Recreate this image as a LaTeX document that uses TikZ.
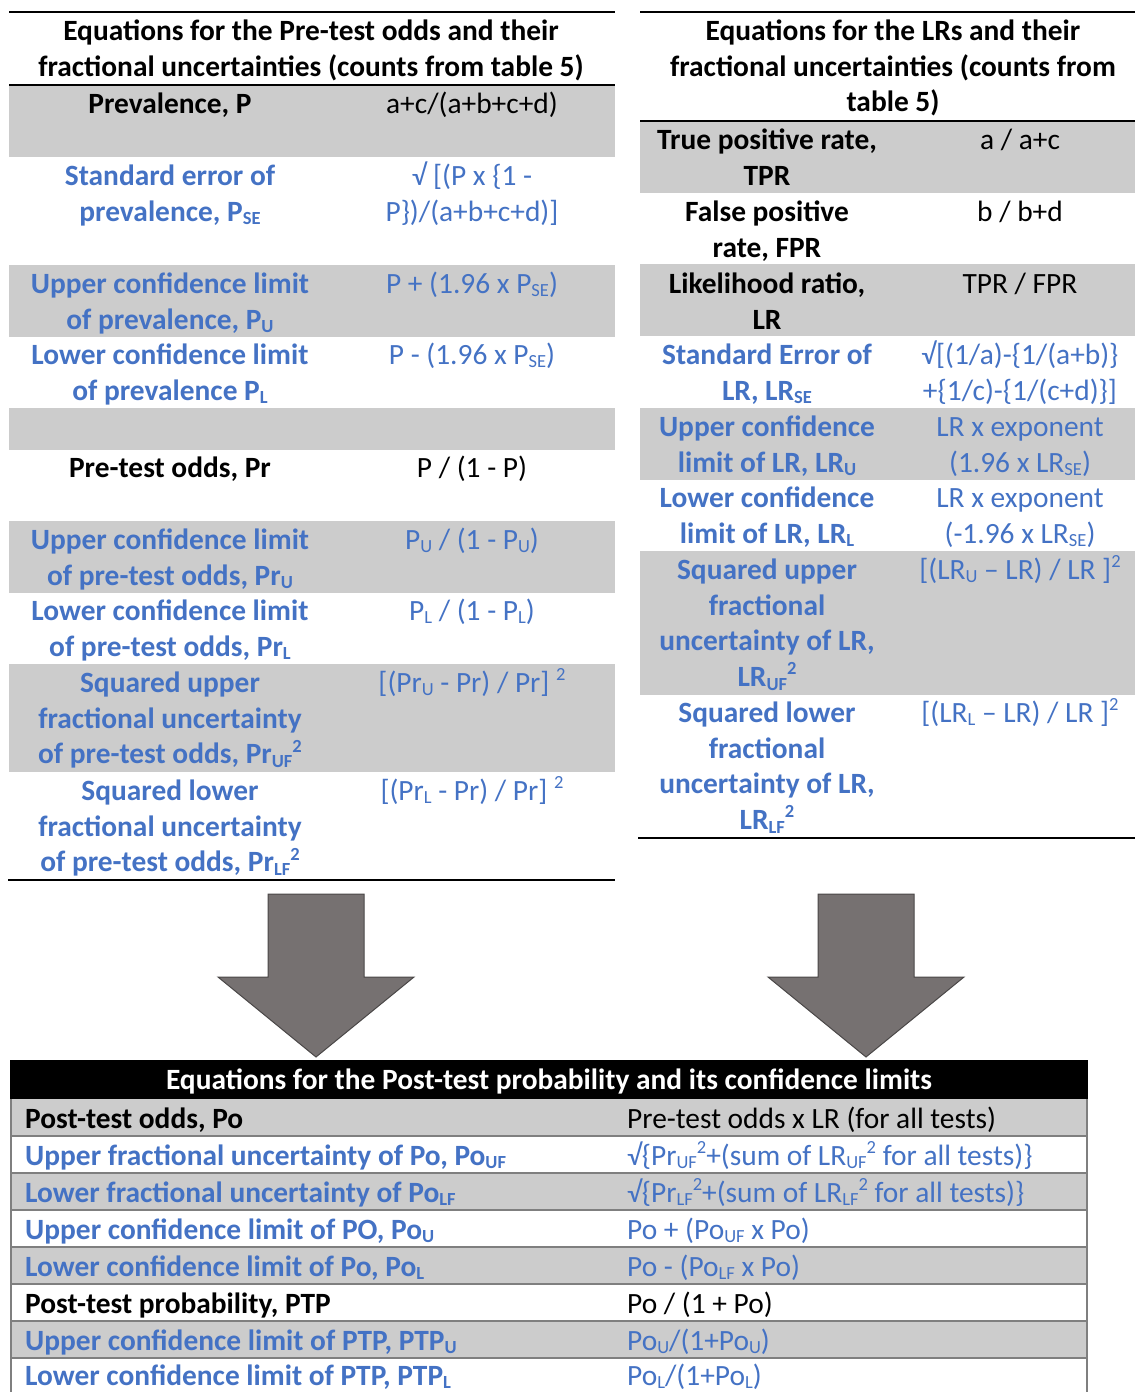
\documentclass[tikz,border=0pt]{standalone}
\usepackage{fontspec}
\setmainfont{Carlito}
\definecolor{eqblue}{HTML}{4472C4}
\definecolor{rowgray}{HTML}{CCCCCC}
\definecolor{arrowgray}{HTML}{767171}
\definecolor{arrowedge}{HTML}{4A4747}
\definecolor{gridgray}{HTML}{7F7F7F}

% lowered and raised small text, as used for indices and squares
\newcommand\sbs[1]{\raisebox{-0.12em}{\fontsize{18.5}{18.5}\selectfont #1}}
\newcommand\sps[1]{\raisebox{0.40em}{\fontsize{18.5}{18.5}\selectfont #1}}
% a centred cell whose first baseline sits at the given y
\newcommand\cellat[5]{\node[#1] (#2) at (#3,#4-26) {\rule{0pt}{26pt}#5};}

\tikzset{
  hd/.style={anchor=north, inner sep=0pt, align=center, font=\bfseries\fontsize{29.4}{35.8}\selectfont},
  lab/.style={anchor=north, inner sep=0pt, align=center, font=\bfseries\fontsize{29.4}{35.8}\selectfont},
  frm/.style={anchor=north, inner sep=0pt, align=center, font=\fontsize{29.4}{35.8}\selectfont},
  eq/.style={text=eqblue},
  rule/.style={line width=2pt, black},
  band/.style={fill=rowgray, draw=none},
  bigarrow/.style={fill=arrowgray, draw=arrowedge, line width=1pt, line join=miter},
  blab/.style={anchor=base west, inner sep=0pt, font=\bfseries\fontsize{29.4}{32}\selectfont},
  bfrm/.style={anchor=base west, inner sep=0pt, font=\fontsize{29.4}{32}\selectfont},
  grid/.style={draw=gridgray, line width=2.5pt}
}

\begin{document}
\begin{tikzpicture}[x=1pt,y=-1pt]
\useasboundingbox (0,0) rectangle (1135,1392);

%% ---------------- left table: pre-test odds ----------------
\fill[band] (9,85) rectangle (615,157);
\fill[band] (9,265) rectangle (615,337);
\fill[band] (9,408) rectangle (615,450);
\fill[band] (9,521) rectangle (615,593);
\fill[band] (9,664) rectangle (615,772);
\draw[rule] (9,12) -- (615,12);
\draw[rule] (9,85) -- (615,85);
\draw[rule] (8,880) -- (615,880);

\cellat{hd}{lt}{311}{40}{Equations for the Pre-test odds and their\\fractional uncertainties (counts from table 5)}

\cellat{lab}{l1}{170}{113}{Prevalence, P}
\cellat{frm}{r1}{472}{113}{a+c/(a+b+c+d)}
\cellat{lab,eq}{l2}{170}{185}{Standard error of\\prevalence, P\sbs{SE}}
\cellat{frm,eq}{r2}{472}{185}{√ [(P x \{1 -\\P\})/(a+b+c+d)]}
\cellat{lab,eq}{l3}{170}{293}{Upper confidence limit\\of prevalence, P\sbs{U}}
\cellat{frm,eq}{r3}{472}{293}{P + (1.96 x P\sbs{SE})}
\cellat{lab,eq}{l4}{170}{364}{Lower confidence limit\\of prevalence P\sbs{L}}
\cellat{frm,eq}{r4}{472}{364}{P - (1.96 x P\sbs{SE})}
\cellat{lab}{l6}{170}{477}{Pre-test odds, Pr}
\cellat{frm}{r6}{472}{477}{P / (1 - P)}
\cellat{lab,eq}{l7}{170}{549}{Upper confidence limit\\of pre-test odds, Pr\sbs{U}}
\cellat{frm,eq}{r7}{472}{549}{P\sbs{U} / (1 - P\sbs{U})}
\cellat{lab,eq}{l8}{170}{620}{Lower confidence limit\\of pre-test odds, Pr\sbs{L}}
\cellat{frm,eq}{r8}{472}{620}{P\sbs{L} / (1 - P\sbs{L})}
\cellat{lab,eq}{l9}{170}{692}{Squared upper\\fractional uncertainty\\of pre-test odds, Pr\sbs{UF}\sps{2}}
\cellat{frm,eq}{r9}{472}{692}{[(Pr\sbs{U} - Pr) / Pr] \sps{2}}
\cellat{lab,eq}{l10}{170}{800}{Squared lower\\fractional uncertainty\\of pre-test odds, Pr\sbs{LF}\sps{2}}
\cellat{frm,eq}{r10}{472}{800}{[(Pr\sbs{L} - Pr) / Pr] \sps{2}}

%% ---------------- right table: likelihood ratios ----------------
\fill[band] (640,121) rectangle (1135,193);
\fill[band] (640,264) rectangle (1135,336);
\fill[band] (640,408) rectangle (1135,480);
\fill[band] (640,551) rectangle (1135,695);
\draw[rule] (640,12) -- (1135,12);
\draw[rule] (640,121) -- (1135,121);
\draw[rule] (638,838) -- (1135,838);

\cellat{hd}{rt}{893}{40}{Equations for the LRs and their\\fractional uncertainties (counts from\\table 5)}

\cellat{lab}{m1}{767}{149}{True positive rate,\\TPR}
\cellat{frm}{s1}{1020}{149}{a / a+c}
\cellat{lab}{m2}{767}{221}{False positive\\rate, FPR}
\cellat{frm}{s2}{1020}{221}{b / b+d}
\cellat{lab}{m3}{767}{293}{Likelihood ratio,\\LR}
\cellat{frm}{s3}{1020}{293}{TPR / FPR}
\cellat{lab,eq}{m4}{767}{364}{Standard Error of\\LR, LR\sbs{SE}}
\cellat{frm,eq}{s4}{1020}{364}{√[(1/a)-\{1/(a+b)\}\\+\{1/c)-\{1/(c+d)\}]}
\cellat{lab,eq}{m5}{767}{436}{Upper confidence\\limit of LR, LR\sbs{U}}
\cellat{frm,eq}{s5}{1020}{436}{LR x exponent\\(1.96 x LR\sbs{SE})}
\cellat{lab,eq}{m6}{767}{507}{Lower confidence\\limit of LR, LR\sbs{L}}
\cellat{frm,eq}{s6}{1020}{507}{LR x exponent\\(-1.96 x LR\sbs{SE})}
\cellat{lab,eq}{m7}{767}{579}{Squared upper\\fractional\\uncertainty of LR,\\LR\sbs{UF}\sps{2}}
\cellat{frm,eq}{s7}{1020}{579}{[(LR\sbs{U} – LR) / LR ]\sps{2}}
\cellat{lab,eq}{m8}{767}{722}{Squared lower\\fractional\\uncertainty of LR,\\LR\sbs{LF}\sps{2}}
\cellat{frm,eq}{s8}{1020}{722}{[(LR\sbs{L} – LR) / LR ]\sps{2}}

%% ---------------- block arrows ----------------
\draw[bigarrow] (268,894) -- (364,894) -- (364,977) -- (414,977) -- (316,1057)
  -- (218,977) -- (268,977) -- cycle;
\draw[bigarrow] (818,894) -- (914,894) -- (914,977) -- (964,977) -- (866,1057)
  -- (768,977) -- (818,977) -- cycle;

%% ---------------- bottom table: post-test probability ----------------
\fill[black] (10,1060) rectangle (1088,1099);
\foreach \t in {1099,1173,1247,1321}
  \fill[rowgray] (10,\t) rectangle (1088,\t+37);
\foreach \t in {1136,1173,1210,1247,1284,1321,1358}
  \draw[grid] (10,\t) -- (1088,\t);
\draw[grid] (11,1099) -- (11,1392);
\draw[grid] (1087,1099) -- (1087,1392);

\node[anchor=base, inner sep=0pt, text=white, font=\bfseries\fontsize{29.4}{32}\selectfont]
  (bt) at (549,1089) {Equations for the Post-test probability and its confidence limits};

\node[blab] (p1) at (25,1128) {Post-test odds, Po};
\node[bfrm] (q1) at (627,1128) {Pre-test odds x LR (for all tests)};
\node[blab,eq] (p2) at (25,1165) {Upper fractional uncertainty of Po, Po\sbs{UF}};
\node[bfrm,eq] (q2) at (627,1165) {√\{Pr\sbs{UF}\sps{2}+(sum of LR\sbs{UF}\sps{2} for all tests)\}};
\node[blab,eq] (p3) at (25,1202) {Lower fractional uncertainty of Po\sbs{LF}};
\node[bfrm,eq] (q3) at (627,1202) {√\{Pr\sbs{LF}\sps{2}+(sum of LR\sbs{LF}\sps{2} for all tests)\}};
\node[blab,eq] (p4) at (25,1239) {Upper confidence limit of PO, Po\sbs{U}};
\node[bfrm,eq] (q4) at (627,1239) {Po + (Po\sbs{UF} x Po)};
\node[blab,eq] (p5) at (25,1276) {Lower confidence limit of Po, Po\sbs{L}};
\node[bfrm,eq] (q5) at (627,1276) {Po - (Po\sbs{LF} x Po)};
\node[blab] (p6) at (25,1313) {Post-test probability, PTP};
\node[bfrm] (q6) at (627,1313) {Po / (1 + Po)};
\node[blab,eq] (p7) at (25,1350) {Upper confidence limit of PTP, PTP\sbs{U}};
\node[bfrm,eq] (q7) at (627,1350) {Po\sbs{U}/(1+Po\sbs{U})};
\node[blab,eq] (p8) at (25,1385) {Lower confidence limit of PTP, PTP\sbs{L}};
\node[bfrm,eq] (q8) at (627,1385) {Po\sbs{L}/(1+Po\sbs{L})};
\end{tikzpicture}
\end{document}
